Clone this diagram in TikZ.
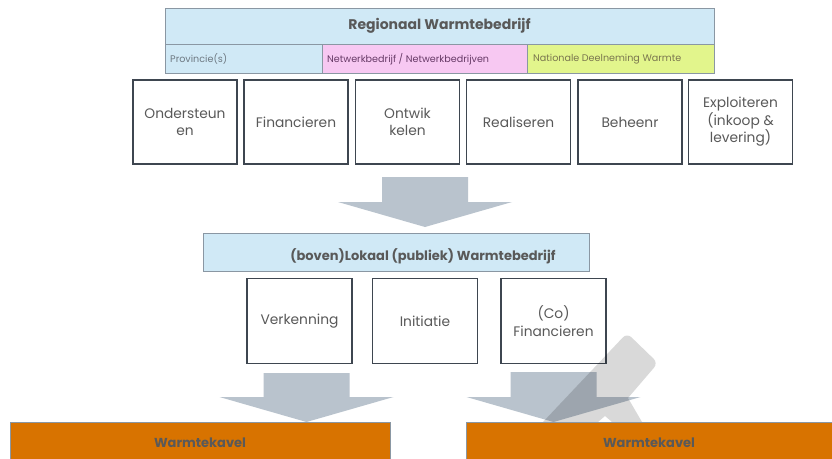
\documentclass[tikz,border=0pt]{standalone}
\usepackage{fontspec}
\setmainfont{Poppins}
\usepackage{tikz}
\usetikzlibrary{positioning}

\definecolor{lichtblauw}{HTML}{D0E9F6}
\definecolor{roze}{HTML}{F7C8F2}
\definecolor{geelgroen}{HTML}{E2F58C}
\definecolor{oranje}{HTML}{D87300}
\definecolor{pijlgrijs}{HTML}{B9C3CD}
\definecolor{tekstgrijs}{HTML}{595959}
\definecolor{rand}{HTML}{3E4650}
\definecolor{dunrand}{HTML}{8A97A3}

\tikzset{
	taak/.style={draw=rand,line width=1.3,fill=white,minimum width=104,minimum height=84,inner sep=0,align=center,text=tekstgrijs,font=\fontsize{13.8}{17.5}\selectfont},
	balk/.style={draw=dunrand,line width=0.8,inner sep=0},
	klein/.style={anchor=west,inner sep=0,font=\fontsize{9.6}{11}\selectfont},
	kop/.style={text=tekstgrijs,font=\bfseries\fontsize{13}{15}\selectfont},
	pijl/.style={fill=pijlgrijs}
}

% block arrow: centre x, top of shaft, tip
\newcommand{\blokpijl}[3]{\fill[pijl] (#1-43,#2) -- (#1+43,#2) -- (#1+43,#3-25) -- (#1+87,#3-25) -- (#1,#3) -- (#1-87,#3-25) -- (#1-43,#3-25) -- cycle;}

\begin{document}
\begin{tikzpicture}[x=1pt,y=-1pt]
	\clip (0,0) rectangle (832,458);
	\fill[white] (0,0) rectangle (832,458);

	% regionaal
	\node[balk,fill=lichtblauw,minimum width=549,minimum height=36] (regio) at (439.5,26) {};
	\node[kop,font=\bfseries\fontsize{14}{16}\selectfont] (regiotekst) at (regio.center) {Regionaal Warmtebedrijf};
	\node[balk,fill=lichtblauw,minimum width=157,minimum height=29] (prov) at (243.5,58.5) {};
	\node[balk,fill=roze,minimum width=205,minimum height=29] (netw) at (424.5,58.5) {};
	\node[balk,fill=geelgroen,minimum width=187,minimum height=29] (nat) at (620.5,58.5) {};
	\node[klein,text=dunrand!80!black] (provtekst) at (170,59) {Provincie(s)};
	\node[klein,text=violet!35!tekstgrijs] (netwtekst) at (327,59) {Netwerkbedrijf / Netwerkbedrijven};
	\node[klein,text=olive!35!tekstgrijs] (nattekst) at (533,59) {Nationale Deelneming Warmte};

	\node[taak] (onder) at (185,122) {Ondersteun\\en};
	\node[taak] (fin) at (296,122) {Financieren};
	\node[taak] (ontw) at (407.5,122) {Ontwik\\kelen};
	\node[taak] (real) at (518.5,122) {Realiseren};
	\node[taak] (beh) at (630,122) {Beheenr};
	\node[taak] (expl) at (740.5,122) {Exploiteren\\(inkoop \&\\levering)};

	\blokpijl{425}{177}{227}

	% lokaal
	\node[balk,fill=lichtblauw,minimum width=386,minimum height=38] (lokaal) at (396,252) {};
	\node[kop] (lokaaltekst) at (423,256) {(boven)Lokaal (publiek) Warmtebedrijf};

	\node[taak,minimum width=105,minimum height=85] (verk) at (299.5,321) {Verkenning};
	\node[taak,minimum width=105,minimum height=85] (init) at (425,321) {Initiatie};
	\node[taak,minimum width=105,minimum height=85] (cofin) at (553.5,321) {(Co)\\Financieren};

	\blokpijl{306.5}{373}{422}
	\blokpijl{553.5}{372}{422}

	% watermerk
	\fill[black,fill opacity=0.15] (543,422) [rounded corners=6] -- (627,333) -- (658,363) [sharp corners] -- (628,398) -- (642,422) -- (612,422) -- (605,416) -- (598,422) -- cycle;

	% warmtekavels
	\node[balk,fill=oranje,minimum width=380,minimum height=42] (kavel1) at (200,443) {};
	\node[kop] (kavel1tekst) at (kavel1.center) {Warmtekavel};
	\node[balk,fill=oranje,minimum width=366,minimum height=42] (kavel2) at (649,443) {};
	\node[kop] (kavel2tekst) at (kavel2.center) {Warmtekavel};
\end{tikzpicture}
\end{document}
